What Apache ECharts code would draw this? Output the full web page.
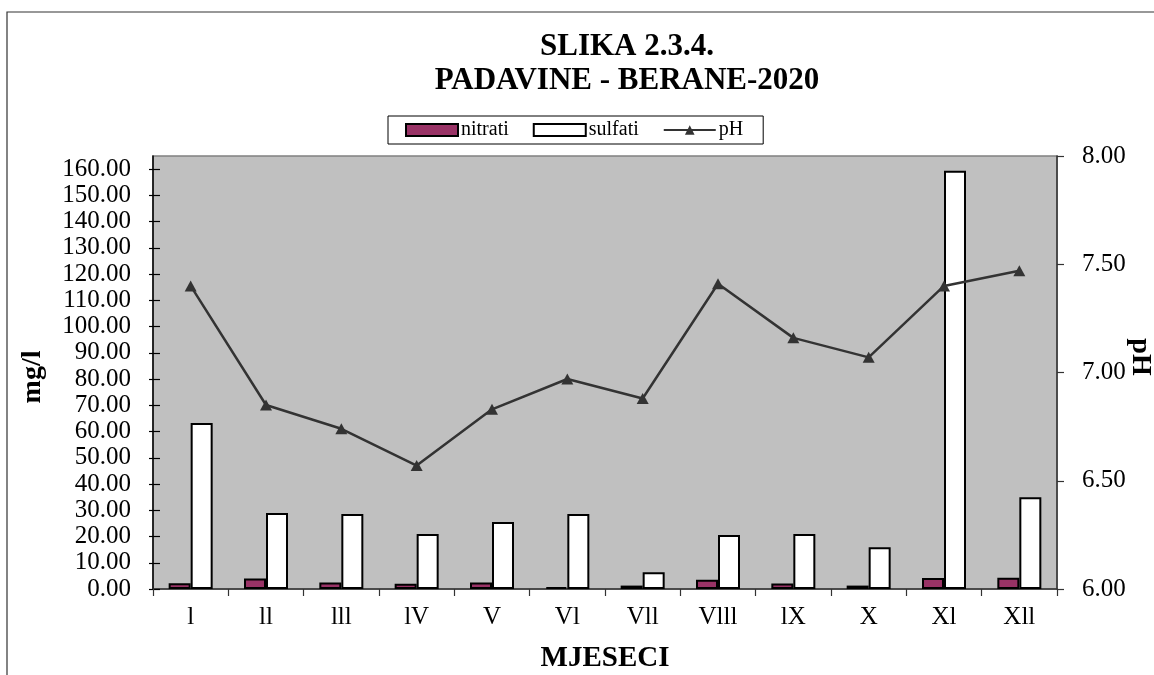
<!DOCTYPE html>
<html>
<head>
<meta charset="utf-8">
<script src="https://cdn.jsdelivr.net/npm/echarts@6/dist/echarts.min.js"></script>
<style>
  html, body { margin: 0; padding: 0; background: #fff; }
  #chart { width: 1154px; height: 675px; }
</style>
</head>
<body>
<div id="chart"></div>
<script>
// Monthly precipitation chemistry, Berane 2020
const months = ['l', 'll', 'lll', 'lV', 'V', 'Vl', 'Vll', 'Vlll', 'lX', 'X', 'Xl', 'Xll'];
const nitrati = [2.2, 4.0, 2.5, 2.0, 2.5, 0.7, 1.3, 3.5, 2.1, 1.3, 4.2, 4.3];
const sulfati = [63.3, 29.0, 28.6, 21.0, 25.5, 28.6, 6.4, 20.6, 21.0, 15.9, 159.4, 35.0];
const pH = [7.40, 6.85, 6.74, 6.57, 6.83, 6.97, 6.88, 7.41, 7.16, 7.07, 7.40, 7.47];
const leftTicks = [0, 10, 20, 30, 40, 50, 60, 70, 80, 90, 100, 110, 120, 130, 140, 150, 160];
const rightTicks = [6.0, 6.5, 7.0, 7.5, 8.0];

const FONT = '"Liberation Serif", "Times New Roman", serif';

const chart = echarts.init(document.getElementById('chart'), null, { renderer: 'canvas' });

const tickLabel = { fontFamily: FONT, fontSize: 25, color: '#000' };

chart.setOption({
  animation: false,
  backgroundColor: '#fff',
  grid: {
    left: 153, top: 156, right: 97, bottom: 86,
    show: true,
    backgroundColor: '#c0c0c0',
    borderColor: '#808080',
    borderWidth: 1.5
  },
  legend: {
    left: 388, top: 116,
    padding: [4, 20, 4, 17],
    borderColor: '#000',
    borderWidth: 1,
    itemGap: 24,
    itemWidth: 52,
    itemHeight: 12,
    textStyle: { fontFamily: FONT, fontSize: 20, color: '#000', padding: [0, 0, 0, -2] },
    data: [
      { name: 'nitrati', icon: 'rect' },
      { name: 'sulfati', icon: 'rect' },
      { name: 'pH' }
    ]
  },
  xAxis: {
    type: 'category',
    data: months,
    boundaryGap: true,
    axisLine: { lineStyle: { color: '#333', width: 1.5 } },
    axisTick: { show: true, length: 7, lineStyle: { color: '#333', width: 1.2 } },
    axisLabel: Object.assign({ margin: 16 }, tickLabel),
    splitLine: { show: false }
  },
  yAxis: [
    {
      type: 'value',
      position: 'left',
      min: 0, max: 165,
      axisLine: { show: true, lineStyle: { color: '#000', width: 1.5 } },
      axisTick: { show: true, length: 4, customValues: leftTicks, lineStyle: { color: '#000', width: 1.2 } },
      axisLabel: Object.assign({ margin: 22, customValues: leftTicks, formatter: v => v.toFixed(2) }, tickLabel),
      splitLine: { show: false }
    },
    {
      type: 'value',
      position: 'right',
      min: 6, max: 8,
      axisLine: { show: true, lineStyle: { color: '#333', width: 1.5 } },
      axisTick: { show: true, length: 7, customValues: rightTicks, lineStyle: { color: '#333', width: 1.2 } },
      axisLabel: Object.assign({ margin: 25, customValues: rightTicks, formatter: v => v.toFixed(2) }, tickLabel),
      splitLine: { show: false }
    },
    {
      // inner half of the crossing ticks on the left axis
      type: 'value',
      position: 'left',
      min: 0, max: 165,
      axisLine: { show: false },
      axisTick: { show: true, inside: true, length: 7, customValues: leftTicks, lineStyle: { color: '#000', width: 1.2 } },
      axisLabel: { show: false },
      splitLine: { show: false }
    }
  ],
  series: [
    {
      name: 'nitrati',
      type: 'bar',
      yAxisIndex: 0,
      data: nitrati,
      barWidth: 22,
      barGap: '0%',
      itemStyle: { color: '#993366', borderColor: '#000', borderWidth: 2 }
    },
    {
      name: 'sulfati',
      type: 'bar',
      yAxisIndex: 0,
      data: sulfati,
      barWidth: 22,
      barGap: '0%',
      itemStyle: { color: '#ffffff', borderColor: '#000', borderWidth: 2 }
    },
    {
      name: 'pH',
      type: 'line',
      yAxisIndex: 1,
      data: pH,
      symbol: 'triangle',
      symbolSize: [12, 11],
      showAllSymbol: true,
      lineStyle: { color: '#333', width: 2.5 },
      itemStyle: { color: '#333' }
    }
  ],
  graphic: [
    {
      type: 'rect', silent: true, z: -1,
      shape: { x: 7, y: 12, width: 1160, height: 700 },
      style: { fill: 'none', stroke: '#333', lineWidth: 1.2 }
    },
    {
      type: 'text', x: 627, y: 47,
      style: { text: 'SLIKA 2.3.4.', font: 'bold 31px ' + FONT, fill: '#000', textAlign: 'center', textVerticalAlign: 'middle' }
    },
    {
      type: 'text', x: 627, y: 81,
      style: { text: 'PADAVINE - BERANE-2020', font: 'bold 31px ' + FONT, fill: '#000', textAlign: 'center', textVerticalAlign: 'middle' }
    },
    {
      type: 'text', x: 605, y: 659,
      style: { text: 'MJESECI', font: 'bold 29px ' + FONT, fill: '#000', textAlign: 'center', textVerticalAlign: 'middle' }
    },
    {
      type: 'text', x: 33, y: 377, rotation: Math.PI / 2,
      style: { text: 'mg/l', font: 'bold 28px ' + FONT, fill: '#000', textAlign: 'center', textVerticalAlign: 'middle' }
    },
    {
      type: 'text', x: 1140, y: 357, rotation: -Math.PI / 2,
      style: { text: 'pH', font: 'bold 28px ' + FONT, fill: '#000', textAlign: 'center', textVerticalAlign: 'middle' }
    }
  ]
});
</script>
</body>
</html>
